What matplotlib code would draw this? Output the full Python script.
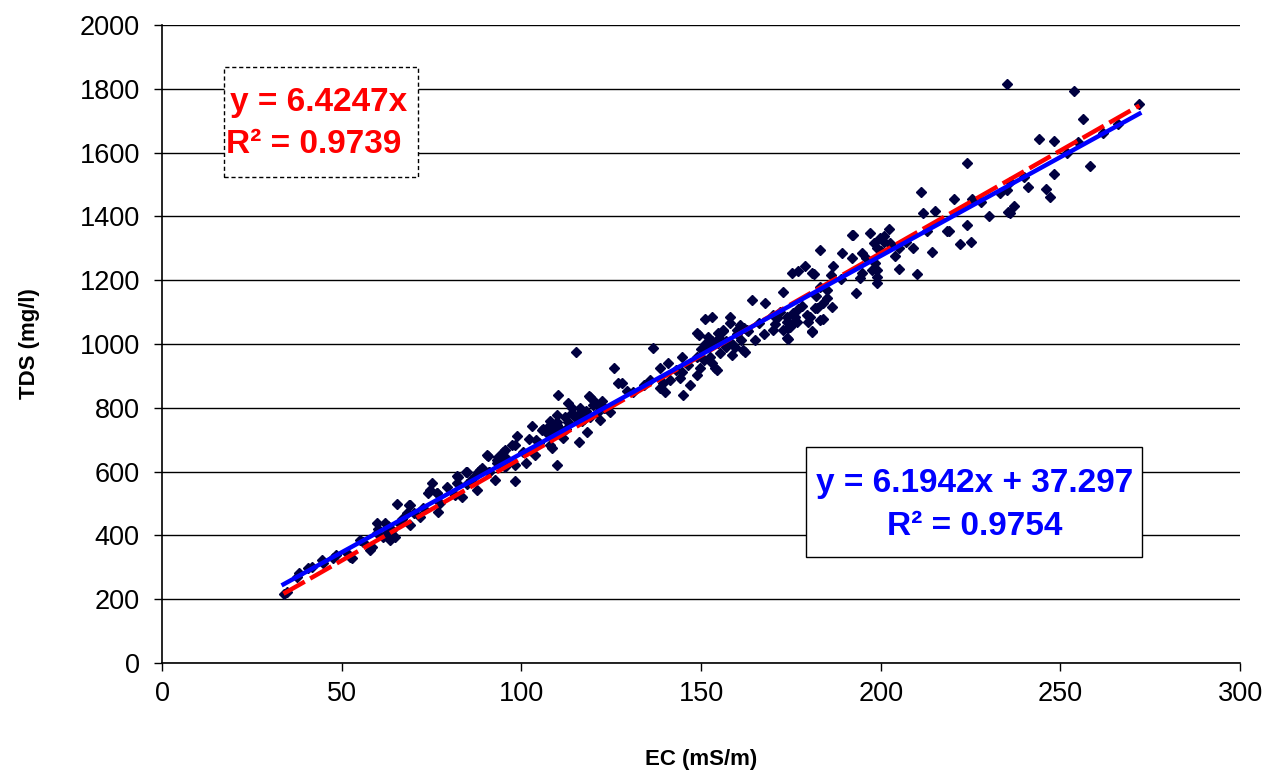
import numpy as np
import matplotlib.pyplot as plt
from matplotlib.patches import Rectangle

plt.rcParams['font.family'] = ['Liberation Sans', 'DejaVu Sans']

# EC (mS/m) and TDS (mg/l) samples
ec = [
    235.1, 253.8, 256.2, 244.1, 248.3, 258.3, 248.3, 246.0, 247.1, 241.1,
    251.8, 254.8, 224.1, 233.2, 235.1, 237.0, 236.0, 230.0, 220.3, 225.3,
    224.1, 225.2, 222.1, 211.2, 211.9, 215.0, 218.4, 219.1, 214.3, 210.0,
    208.9, 205.1, 204.0, 202.2, 197.1, 199.8, 200.8, 202.6, 198.0, 192.1,
    194.9, 192.1, 189.2, 183.1, 186.8, 198.5, 198.9, 198.9, 198.9, 197.5,
    194.3, 194.7, 193.1, 179.0, 181.3, 186.1, 185.0, 185.0, 272.0, 235.5,
    236.0, 192.4,
    177.1, 175.2, 181.0, 172.9, 164.3, 167.9, 182.2, 180.4, 175.7, 176.6,
    183.1, 180.8, 173.9, 174.8, 170.6, 172.9, 174.3, 170.1, 167.4, 165.0,
    158.1, 158.1, 151.1, 153.0, 156.2, 154.8, 152.0, 149.3, 159.9, 161.0,
    162.3, 159.5, 154.8, 155.3, 152.5, 153.9, 150.7, 149.7, 148.8, 151.6,
    136.7, 144.6, 146.5, 140.9, 138.6, 144.6, 144.2, 147.0, 141.4, 139.5,
    135.8, 127.9, 186.4, 181.7, 179.4, 179.9, 184.0, 180.8, 176.2, 175.7,
    174.3, 173.9, 162.7, 160.9, 159.0, 161.8, 158.6, 138.6, 140.0, 145.1,
    148.8, 153.0, 154.4, 119.1,
    115.2, 125.8, 127.0, 129.3, 110.3, 113.1, 118.7, 120.1, 122.4, 121.9,
    124.7, 116.3, 114.0, 115.0, 109.8, 109.8, 108.0, 107.0, 109.4, 110.3,
    105.7, 102.9, 102.0, 98.7, 97.3, 95.5, 90.8, 93.6, 93.2, 95.5,
    98.2, 101.3, 103.8, 108.0, 108.5, 109.8, 115.9, 111.7, 118.2, 121.9,
    88.5, 84.6, 82.0,
    75.1, 74.6, 76.4, 79.2, 82.0, 82.5, 84.8, 88.0, 81.5, 83.4,
    87.6, 92.7, 98.2, 69.0, 77.4, 90.4, 93.2, 95.0, 98.2,
    33.8, 34.7, 38.0, 37.5, 40.7, 41.6, 44.4, 44.9, 47.7, 52.3,
    52.8, 51.4, 55.1, 57.9, 58.4, 59.8, 59.8, 62.1, 62.5, 63.5,
    64.8, 65.3, 68.6, 68.1, 69.0, 71.8, 74.1, 76.4, 76.9, 63.9,
    61.6, 48.5, 66.7, 72.5, 86.0, 91.0, 100.5, 105.0, 112.5, 117.5,
    123.0, 131.0, 134.0, 143.0, 157.0, 166.0, 170.0, 189.0, 207.0, 213.0,
    228.0, 240.0, 262.0, 266.0,
    104.0, 106.0, 107.0, 108.0, 110.0, 111.0, 112.0, 113.0, 114.0, 116.0,
    117.0, 118.0, 119.0, 120.0, 121.0, 123.0,
    149.0, 150.0, 151.0, 152.0, 153.0, 155.0, 156.0, 157.0, 158.0, 160.0,
    162.0, 163.0,
    171.0, 172.0, 174.0, 177.0, 178.0, 182.0, 183.0, 184.0,
    196.0, 199.0, 200.0, 201.0, 203.0, 205.0,
    85.0, 87.0, 89.0, 91.0, 94.0, 96.0,
    56.0, 60.0, 63.0, 66.0, 70.0,
]
tds = [
    1815, 1794, 1704, 1642, 1637, 1559, 1533, 1485, 1462, 1493,
    1599, 1634, 1568, 1472, 1483, 1433, 1410, 1401, 1453, 1453,
    1373, 1321, 1312, 1478, 1410, 1417, 1355, 1355, 1287, 1219,
    1300, 1235, 1277, 1360, 1347, 1331, 1321, 1316, 1316, 1342,
    1286, 1269, 1286, 1295, 1245, 1253, 1232, 1211, 1190, 1232,
    1206, 1221, 1159, 1245, 1219, 1216, 1169, 1143, 1752, 1415,
    1509, 1342,
    1230, 1224, 1221, 1164, 1138, 1130, 1112, 1084, 1098, 1070,
    1075, 1042, 1070, 1052, 1063, 1044, 1016, 1044, 1031, 1013,
    1084, 1067, 1077, 1084, 1044, 1035, 1023, 1028, 1044, 1013,
    976, 992, 1002, 971, 960, 924, 950, 924, 903, 997,
    987, 960, 934, 940, 924, 913, 892, 871, 887, 877,
    887, 877, 1117, 1112, 1091, 1070, 1077, 1039, 1086, 1065,
    1049, 1018, 1044, 1060, 997, 981, 966, 861, 850, 840,
    1033, 940, 918, 835,
    974, 924, 877, 854, 840, 814, 838, 822, 822, 806,
    788, 799, 785, 772, 777, 756, 746, 735, 730, 741,
    730, 744, 701, 712, 683, 668, 650, 645, 626, 615,
    621, 626, 652, 683, 673, 621, 694, 704, 725, 762,
    605, 600, 587,
    563, 542, 532, 553, 563, 584, 600, 600, 527, 521,
    542, 574, 571, 495, 503, 652, 636, 662, 683,
    216, 224, 281, 271, 297, 302, 323, 313, 328, 333,
    328, 344, 386, 354, 365, 438, 407, 438, 407, 386,
    396, 500, 495, 469, 433, 457, 532, 532, 474, 417,
    396, 338, 450, 485, 575, 598, 660, 690, 735, 765,
    800, 850, 870, 920, 1010, 1065, 1090, 1205, 1320, 1355,
    1445, 1525, 1660, 1690,
    700, 735, 720, 760, 745, 730, 770, 755, 800, 780,
    760, 790, 770, 810, 785, 800,
    960, 985, 1000, 990, 1010, 1020, 1040, 990, 1005, 1030,
    1050, 1040,
    1080, 1100, 1085, 1110, 1120, 1150, 1180, 1130,
    1270, 1300, 1290, 1340, 1310, 1300,
    560, 585, 610, 600, 625, 640,
    380, 420, 430, 440, 470,
]

# Excel trendlines as printed on the chart
slope_0, r2_0 = 6.4247, 0.9739
slope_1, icpt_1, r2_1 = 6.1942, 37.297, 0.9754

fig = plt.figure(figsize=(12.78, 7.76), dpi=100)
ax = fig.add_axes([0.1268, 0.1456, 0.8435, 0.8222])

ax.plot(ec, tds, linestyle='none', marker='D', ms=5,
        color='#000040', mec='#000040', zorder=3)

xs = np.array([min(ec), max(ec)])
ax.plot(xs, slope_0 * xs, color='#ff0000', lw=3.2, ls=(0, (5.5, 1.4)), zorder=4)
ax.plot(xs, slope_1 * xs + icpt_1, color='#0000ff', lw=3.2, zorder=5)

ax.set_xlim(0, 300)
ax.set_ylim(0, 2000)
ax.set_xticks(np.arange(0, 301, 50))
ax.set_yticks(np.arange(0, 2001, 200))
ax.tick_params(labelsize=19.5, length=6, width=1, direction='out', color='black')
ax.tick_params(axis='x', pad=7)
ax.tick_params(axis='y', pad=10)
ax.yaxis.grid(True, color='black', lw=1)
ax.set_axisbelow(True)
for s in ['top', 'right']:
    ax.spines[s].set_visible(False)
for s in ['left', 'bottom']:
    ax.spines[s].set_linewidth(1.2)

ax.set_xlabel('EC (mS/m)', fontsize=16, fontweight='bold')
ax.set_ylabel('TDS (mg/l)', fontsize=16, fontweight='bold')
ax.xaxis.set_label_coords(0.5, -0.135)
ax.yaxis.set_label_coords(-0.113, 0.5)

# trendline label boxes
ax.add_patch(Rectangle((0.0575, 0.762), 0.180, 0.172, transform=ax.transAxes,
                       fill=True, fc='white', ec='black', lw=1, ls=(0, (3, 2)), zorder=6))
ax.text(0.063, 0.879, f'y = {slope_0}x', transform=ax.transAxes, color='#ff0000',
        fontsize=24, fontweight='bold', ha='left', va='center', zorder=7)
ax.text(0.059, 0.812, f'R² = {r2_0}', transform=ax.transAxes, color='#ff0000',
        fontsize=24, fontweight='bold', ha='left', va='center', zorder=7)

ax.add_patch(Rectangle((0.597, 0.166), 0.3125, 0.1725, transform=ax.transAxes,
                       fill=True, fc='white', ec='black', lw=1, zorder=6))
ax.text(0.7535, 0.282, f'y = {slope_1}x + {icpt_1}', transform=ax.transAxes, color='#0000ff',
        fontsize=24, fontweight='bold', ha='center', va='center', zorder=7)
ax.text(0.7535, 0.214, f'R² = {r2_1}', transform=ax.transAxes, color='#0000ff',
        fontsize=24, fontweight='bold', ha='center', va='center', zorder=7)

fig.savefig('out.png', dpi=100)
